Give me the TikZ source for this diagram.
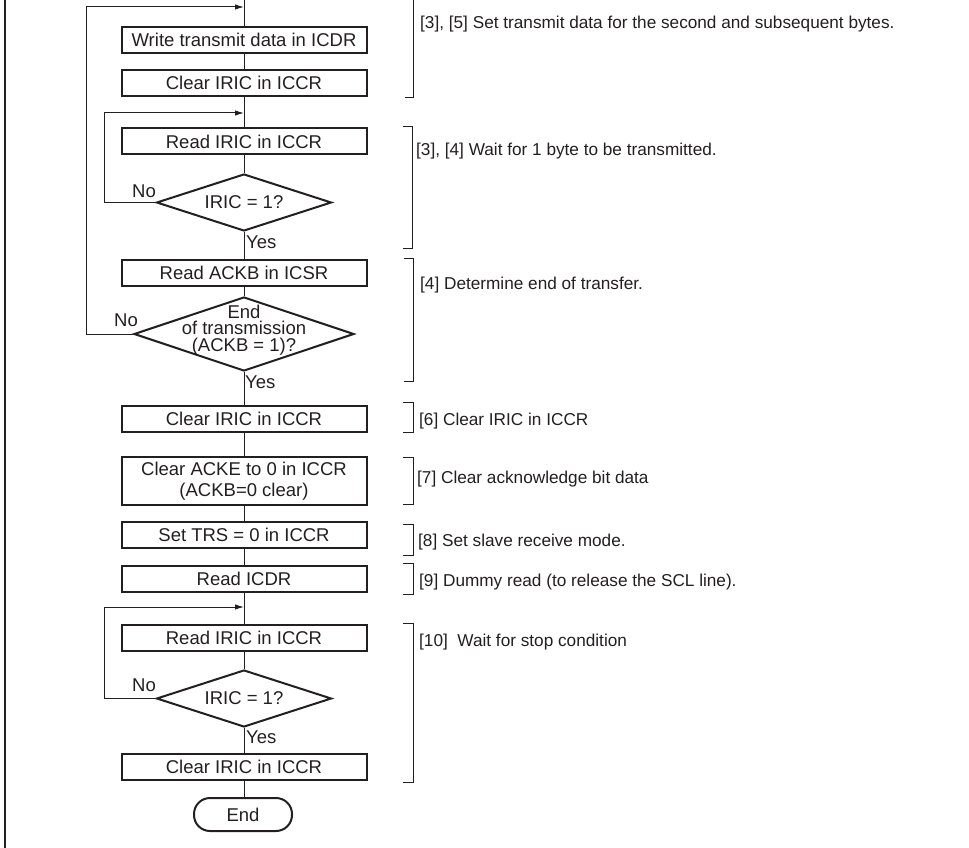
\documentclass[tikz,border=0pt]{standalone}
\usepackage{fontspec}
\setmainfont{Liberation Sans}
\usetikzlibrary{shapes.geometric,arrows.meta}
\definecolor{ink}{HTML}{231F20}
\newcommand{\flowfont}{\fontsize{18.5}{21}\selectfont}
\newcommand{\notefont}{\fontsize{17.2}{20}\selectfont}
\begin{document}
\begin{tikzpicture}[x=1pt,y=-1pt,
  box/.style={draw=ink,line width=2pt,minimum width=245pt,minimum height=26pt,inner sep=0pt,font=\flowfont,text=ink,align=center},
  dia/.style={draw=ink,line width=2pt,diamond,inner sep=0pt},
  txt/.style={font=\flowfont,text=ink,inner sep=0pt},
  note/.style={font=\notefont,text=ink,inner sep=0pt,anchor=base west},
  con/.style={draw=ink,line width=1pt},
  arr/.style={con,-{Latex[length=9pt,width=5.5pt]}},
  brk/.style={draw=ink,line width=1pt}]
\useasboundingbox (0,0) rectangle (969,848);
% left frame
\draw[ink,line width=2.5pt] (5,0) -- (5,848);
% junctions
\coordinate (top) at (244,0);
\coordinate (j0) at (244,7);
\coordinate (j1) at (244,113);
\coordinate (j2) at (244,607);
% nodes
\node[box] (b1) at (244,40) {Write transmit data in ICDR};
\node[box] (b2) at (244,83) {Clear IRIC in ICCR};
\node[box] (b3) at (244,141.5) {Read IRIC in ICCR};
\node[dia,minimum width=175pt,minimum height=57pt] (d1) at (244,202.5) {};
\node[txt] (d1t) at (d1.center) {IRIC = 1?};
\node[box] (b4) at (244,273) {Read ACKB in ICSR};
\node[dia,minimum width=220pt,minimum height=74pt] (d2) at (244,334) {};
\node[txt,align=center,font=\fontsize{18.5}{16.5}\selectfont] (d2t) at (244,330) {End\\of transmission\\(ACKB = 1)?};
\node[box] (b5) at (244,418.5) {Clear IRIC in ICCR};
\node[box,minimum height=48pt] (b6) at (244,481) {Clear ACKE to 0 in ICCR\\(ACKB=0 clear)};
\node[box] (b7) at (244,535) {Set TRS = 0 in ICCR};
\node[box] (b8) at (244,579) {Read ICDR};
\node[box] (b9) at (244,637.5) {Read IRIC in ICCR};
\node[dia,minimum width=175pt,minimum height=57pt] (d3) at (244,698.5) {};
\node[txt] (d3t) at (d3.center) {IRIC = 1?};
\node[box] (b10) at (244,767) {Clear IRIC in ICCR};
\node[draw=ink,line width=2pt,rounded corners=16pt,minimum width=98pt,minimum height=33pt,inner sep=0pt,font=\flowfont,text=ink] (end) at (243,814.5) {End};
% connectors
\draw[con] (top) -- (b1.north);
\draw[con] (b1) -- (b2);
\draw[con] (b2) -- (b3);
\draw[con] (b3) -- (d1);
\draw[con] (d1) -- (b4);
\draw[con] (b4) -- (d2);
\draw[con] (d2) -- (b5);
\draw[con] (b5) -- (b6);
\draw[con] (b6) -- (b7);
\draw[con] (b7) -- (b8);
\draw[con] (b8) -- (b9);
\draw[con] (b9) -- (d3);
\draw[con] (d3) -- (b10);
\draw[con] (b10.south) -- (b10.south |- end.north);
\draw[arr] (d2.west) -| (86,7) -- (j0);
\draw[arr] (d1.west) -| (104,113) -- (j1);
\draw[arr] (d3.west) -| (104,607) -- (j2);
% labels
\node[txt,anchor=west] (no1) at (132,191.5) {No};
\node[txt,anchor=west] (no2) at (114,320.7) {No};
\node[txt,anchor=west] (no3) at (132,685.3) {No};
\node[txt,anchor=west] (yes1) at (246,242.7) {Yes};
\node[txt,anchor=west] (yes2) at (245,382.7) {Yes};
\node[txt,anchor=west] (yes3) at (246,737.3) {Yes};
% brackets
\draw[brk] (405,98) -- (413,98) -- (413,0);
\draw[brk] (403,127) -- (412,127) -- (412,248) -- (403,248);
\draw[brk] (404,258) -- (413,258) -- (413,381) -- (404,381);
\draw[brk] (403,402) -- (413,402) -- (413,432) -- (403,432);
\draw[brk] (403,457) -- (413,457) -- (413,504) -- (403,504);
\draw[brk] (403,524) -- (413,524) -- (413,555) -- (403,555);
\draw[brk] (403,563) -- (413,563) -- (413,594) -- (403,594);
\draw[brk] (403,623) -- (413,623) -- (413,782) -- (403,782);
% notes
\node[note] (n1) at (420,28.3) {[3], [5] Set transmit data for the second and subsequent bytes.};
\node[note] (n2) at (416,156) {[3], [4] Wait for 1 byte to be transmitted.};
\node[note] (n3) at (420,289) {[4] Determine end of transfer.};
\node[note] (n4) at (419,425) {[6] Clear IRIC in ICCR};
\node[note] (n5) at (417,483.3) {[7] Clear acknowledge bit data};
\node[note] (n6) at (418,546) {[8] Set slave receive mode.};
\node[note] (n7) at (419,586) {[9] Dummy read (to release the SCL line).};
\node[note] (n8) at (419,646) {[10]\ \ Wait for stop condition};
\end{tikzpicture}
\end{document}
